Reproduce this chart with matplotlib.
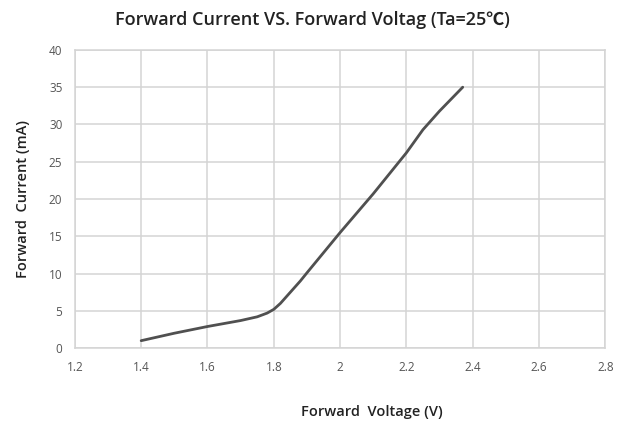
import matplotlib
matplotlib.use('Agg')
import matplotlib.pyplot as plt

# 正向电压 / 正向电流
voltage = [1.40, 1.50, 1.60, 1.70, 1.75, 1.78, 1.80, 1.82, 1.85, 1.88, 1.90, 1.95, 2.00, 2.10, 2.20, 2.25, 2.30, 2.37]
current = [1.0, 2.0, 2.9, 3.7, 4.2, 4.7, 5.2, 6.0, 7.5, 9.0, 10.1, 12.8, 15.5, 20.7, 26.2, 29.3, 31.8, 35.0]

x_ticks = [1.2, 1.4, 1.6, 1.8, 2.0, 2.2, 2.4, 2.6, 2.8]
x_tick_labels = ['1.2', '1.4', '1.6', '1.8', '2', '2.2', '2.4', '2.6', '2.8']
y_ticks = [0, 5, 10, 15, 20, 25, 30, 35, 40]

plt.rcParams['font.family'] = ['Open Sans', 'DejaVu Sans']

fig = plt.figure(figsize=(6.24, 4.23), dpi=100)
ax = fig.add_axes([0.120, 0.177, 0.850, 0.705])

ax.plot(voltage, current, color='#505050', linewidth=2.0, solid_capstyle='round', solid_joinstyle='round')

ax.set_xlim(1.2, 2.8)
ax.set_ylim(0, 40)
ax.set_xticks(x_ticks)
ax.set_xticklabels(x_tick_labels)
ax.set_yticks(y_ticks)
ax.tick_params(length=0, labelsize=8.5, colors='#555555', pad=9)

ax.grid(True, color='#d4d4d4', linewidth=1.1)
ax.set_axisbelow(True)
for sp in ax.spines.values():
    sp.set_color('#d4d4d4')
    sp.set_linewidth(1.1)

fig.text(0.5, 0.952, 'Forward Current VS. Forward Voltag (Ta=25\u2103)', ha='center', va='center',
         fontsize=13, fontweight='semibold', color='#222222',
         family=['Open Sans', 'Noto Sans CJK SC', 'DejaVu Sans'])
ax.set_xlabel('Forward  Voltage (V)', fontsize=10.5, fontweight='semibold', color='#222222')
ax.xaxis.set_label_coords(0.56, -0.19)
ax.set_ylabel('Forward  Current (mA)', fontsize=10.5, fontweight='semibold', color='#222222')
ax.yaxis.set_label_coords(-0.085, 0.5)

fig.savefig('out.png', dpi=100, facecolor='white')
